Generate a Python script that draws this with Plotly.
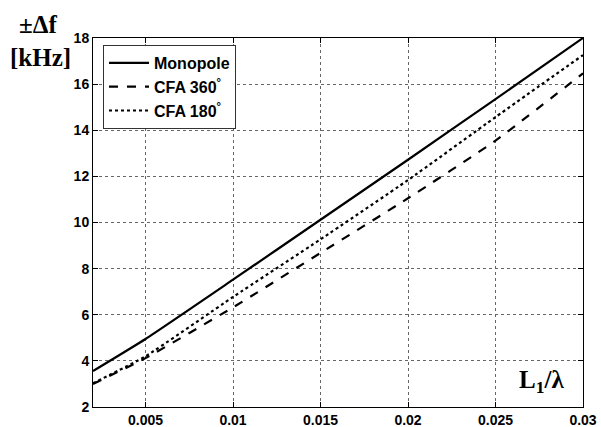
import plotly.graph_objects as go

# Frequency deviation vs. normalised length L1/lambda
l_over_lambda = [0.002, 0.005, 0.01, 0.015, 0.02, 0.025, 0.03]
monopole = [3.56, 4.95, 7.52, 10.12, 12.72, 15.35, 18.0]
cfa_360 = [3.0, 4.12, 6.32, 8.68, 11.05, 13.55, 16.47]
cfa_180 = [3.03, 4.2, 6.77, 9.27, 11.84, 14.57, 17.26]

x_ticks = [0.005, 0.01, 0.015, 0.02, 0.025, 0.03]
x_tick_text = ["0.005", "0.01", "0.015", "0.02", "0.025", "0.03"]
y_ticks = [2, 4, 6, 8, 10, 12, 14, 16, 18]

W, H = 601, 427
L, R, T, B = 93, 18, 38, 20
pw, ph = W - L - R, H - T - B


def px(xp):
    return (xp - L) / pw


def py(yp):
    return 1 - (yp - T) / ph


fig = go.Figure()
series = [
    ("Monopole", monopole, "solid"),
    ("CFA 360<sup>°</sup>", cfa_360, "dash"),
    ("CFA 180<sup>°</sup>", cfa_180, "dot"),
]
for name, ys, dash in series:
    fig.add_trace(go.Scatter(
        x=l_over_lambda, y=ys, mode="lines", name=name,
        line=dict(color="black", width=2.2, dash=dash, shape="spline", smoothing=0.5),
    ))

axis_common = dict(
    showline=True, linecolor="black", linewidth=1, mirror="ticks",
    ticks="inside", ticklen=5, tickcolor="black",
    showgrid=True, gridcolor="#666", gridwidth=1, griddash="dot",
    zeroline=False, automargin=False,
    tickfont=dict(family="Liberation Sans", size=14, color="black", weight="bold"),
)

fig.update_xaxes(range=[0.002, 0.03], tickvals=x_ticks, ticktext=x_tick_text, **axis_common)
fig.update_yaxes(range=[2, 18], tickvals=y_ticks, **axis_common)

serif = dict(family="Liberation Serif", size=25, color="black", weight="bold")
fig.add_annotation(text="±Δf", xref="paper", yref="paper", x=px(38), y=py(24),
                   showarrow=False, font=serif, xanchor="center", yanchor="middle")
fig.add_annotation(text="[kHz]", xref="paper", yref="paper", x=px(40), y=py(58),
                   showarrow=False, font=serif, xanchor="center", yanchor="middle")
fig.add_annotation(text="L<sub>1</sub>/λ", xref="paper", yref="paper", x=px(541), y=py(381),
                   showarrow=False, font=serif, xanchor="center", yanchor="middle")

fig.update_layout(
    width=W, height=H,
    margin=dict(l=L, r=R, t=T, b=B, pad=0),
    paper_bgcolor="white", plot_bgcolor="white",
    showlegend=True,
    legend=dict(
        x=px(103), y=py(45), xanchor="left", yanchor="top",
        bgcolor="white", bordercolor="#333", borderwidth=1,
        font=dict(family="Liberation Sans", size=16, color="black", weight="bold"),
        tracegroupgap=0, itemwidth=40,
    ),
)

fig.write_html("out.html")
